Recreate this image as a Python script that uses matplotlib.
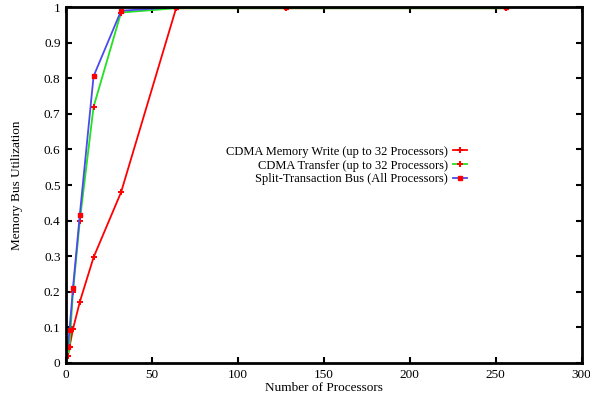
import matplotlib
matplotlib.use('Agg')
import matplotlib.pyplot as plt

procs = [1, 2, 4, 8, 16, 32, 64, 128, 256]
cdma_write = [0.02, 0.045, 0.095, 0.172, 0.297, 0.48, 0.997, 0.997, 0.997]
cdma_transfer = [0.02, 0.045, 0.20, 0.40, 0.72, 0.985, 0.997, 0.997, 0.997]
split_bus = [0.045, 0.093, 0.21, 0.417, 0.806, 0.99, 1.0, 1.0, 1.0]

labels = ['CDMA Memory Write (up to 32 Processors)',
          'CDMA Transfer (up to 32 Processors)',
          'Split-Transaction Bus (All Processors)']


def main():
    plt.rcParams['font.family'] = ['Liberation Serif', 'DejaVu Serif']
    plt.rcParams['font.size'] = 9.5

    fig = plt.figure(figsize=(5.9, 3.98), dpi=100)
    ax = fig.add_axes([0.112, 0.088, 0.874, 0.894])

    ax.plot(procs, cdma_write, color='#ff0000', lw=1.3, marker='+', ms=4.5,
            mew=1.4, mec='#ff0000', label=labels[0])
    ax.plot(procs, cdma_transfer, color='#22e022', lw=1.3, marker='+', ms=4.5,
            mew=1.4, mec='#ff0000', label=labels[1])
    ax.plot(procs, split_bus, color='#4a4aee', lw=1.3, marker='s', ms=3.3,
            mec='#ff0000', mfc='#ff0000', label=labels[2])

    ax.set_xlim(0, 300)
    ax.set_ylim(0, 1)
    ax.set_xticks(range(0, 301, 50))
    ax.set_yticks([i / 10 for i in range(11)])
    ax.set_yticklabels(['0'] + ['%.1f' % (i / 10) for i in range(1, 10)] + ['1'])
    ax.tick_params(direction='in', top=True, right=True, length=4, width=1.5,
                   pad=4)
    for s in ax.spines.values():
        s.set_linewidth(2)

    ax.set_xlabel('Number of Processors', labelpad=1)
    ax.set_ylabel('Memory Bus Utilization', labelpad=15)

    ax.legend(loc='center right', bbox_to_anchor=(0.79, 0.555), frameon=False,
              markerfirst=False, handlelength=1.1, handletextpad=0.45,
              labelspacing=0.15, borderpad=0, fontsize=9)

    fig.savefig('out.png', dpi=100)


if __name__ == '__main__':
    main()
